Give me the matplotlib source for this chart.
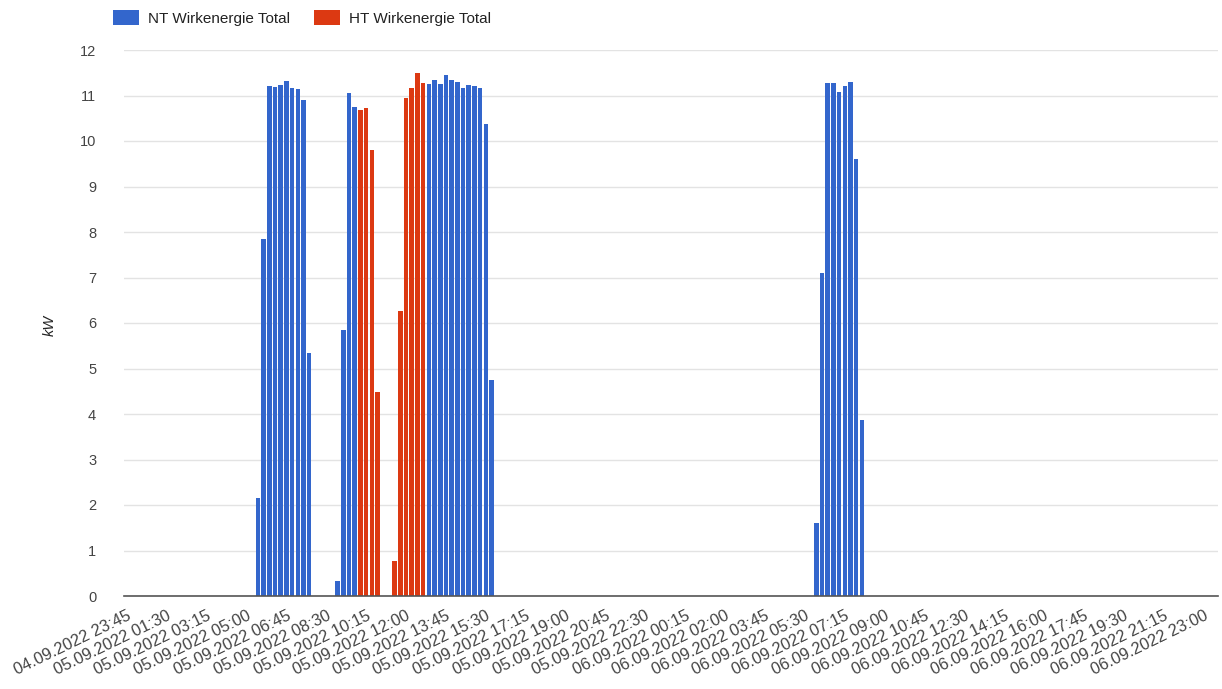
import matplotlib
matplotlib.use("Agg")
import matplotlib.pyplot as plt
from matplotlib.patches import Patch
import numpy as np
import pandas as pd

# ---- data ----
start_time = "2022-09-04 23:45"
n_slots = 192  # 15-minute intervals

nt_segments = [
    ("2022-09-05 05:30", [2.15, 7.85, 11.2, 11.18, 11.23, 11.31, 11.17, 11.15, 10.9, 5.35]),
    ("2022-09-05 09:00", [0.32, 5.85, 11.05, 10.75]),
    ("2022-09-05 13:00", [11.25, 11.33, 11.25, 11.44, 11.35, 11.3, 11.17, 11.24, 11.21, 11.17, 10.38, 4.75]),
    ("2022-09-06 06:00", [1.6, 7.1, 11.27, 11.28, 11.08, 11.2, 11.3, 9.6, 3.87]),
]
ht_segments = [
    ("2022-09-05 10:00", [10.68, 10.72, 9.8, 4.48]),
    ("2022-09-05 11:30", [0.77, 6.26, 10.94, 11.17, 11.5, 11.27]),
]

tick_labels = [
    "04.09.2022 23:45", "05.09.2022 01:30", "05.09.2022 03:15", "05.09.2022 05:00",
    "05.09.2022 06:45", "05.09.2022 08:30", "05.09.2022 10:15", "05.09.2022 12:00",
    "05.09.2022 13:45", "05.09.2022 15:30", "05.09.2022 17:15", "05.09.2022 19:00",
    "05.09.2022 20:45", "05.09.2022 22:30", "06.09.2022 00:15", "06.09.2022 02:00",
    "06.09.2022 03:45", "06.09.2022 05:30", "06.09.2022 07:15", "06.09.2022 09:00",
    "06.09.2022 10:45", "06.09.2022 12:30", "06.09.2022 14:15", "06.09.2022 16:00",
    "06.09.2022 17:45", "06.09.2022 19:30", "06.09.2022 21:15", "06.09.2022 23:00",
]
series_names = ["NT Wirkenergie Total", "HT Wirkenergie Total"]
y_label = "kW"

# ---- build series on the category axis ----
times = pd.date_range(start_time, periods=n_slots, freq="15min")

def build(segments):
    s = pd.Series(np.nan, index=times)
    for t0, vals in segments:
        idx = pd.date_range(t0, periods=len(vals), freq="15min")
        s.loc[idx] = vals
    return s

nt = build(nt_segments)
ht = build(ht_segments)
label_times = pd.to_datetime(tick_labels, format="%d.%m.%Y %H:%M")
tick_pos = [times.get_loc(t) for t in label_times]

# ---- plot ----
plt.rcParams['font.family'] = ['Liberation Sans', 'DejaVu Sans']
fig = plt.figure(figsize=(12.22, 6.89), dpi=100)
ax = fig.add_axes([124/1222, 1 - 596/689, (1218 - 124)/1222, (596 - 50)/689])

blue = "#3366cc"
red = "#dc3912"
x = np.arange(n_slots)
w = 0.8
ax.bar(x, nt.values, width=w, color=blue, zorder=3)
ax.bar(x, ht.values, width=w, color=red, zorder=3)

ax.set_xlim(-0.5, n_slots - 0.5)
ax.set_ylim(0, 12)
ax.set_yticks(range(0, 13))
ax.yaxis.grid(True, color="#e3e3e3", linewidth=1, zorder=0)
ax.set_axisbelow(True)
for sp in ["top", "right", "left"]:
    ax.spines[sp].set_visible(False)
ax.spines["bottom"].set_color("#555555")
ax.spines["bottom"].set_linewidth(1.2)
ax.spines["bottom"].set_zorder(4)

ax.tick_params(axis="y", length=0, pad=20, labelsize=10.5, labelcolor="#444444")
ax.set_xticks(tick_pos)
ax.set_xticklabels(tick_labels, rotation=26, ha="right", rotation_mode="anchor",
                   fontsize=11.8, color="#444444")
ax.tick_params(axis="x", length=0, pad=9)

fig.text(50/1222, 1 - 325/689, y_label, rotation=90, style="italic",
         fontsize=10.5, color="#222222", ha="center", va="center")

handles = [Patch(facecolor=blue, edgecolor="none"), Patch(facecolor=red, edgecolor="none")]
fig.legend(handles, series_names, loc="upper left", bbox_to_anchor=(99/1222, 1 + 4/689),
           ncol=2, frameon=False, fontsize=11, handlelength=1.7, handleheight=1.15,
           handletextpad=0.6, columnspacing=1.6, labelcolor="#222222")

fig.savefig("out.png", dpi=100)
